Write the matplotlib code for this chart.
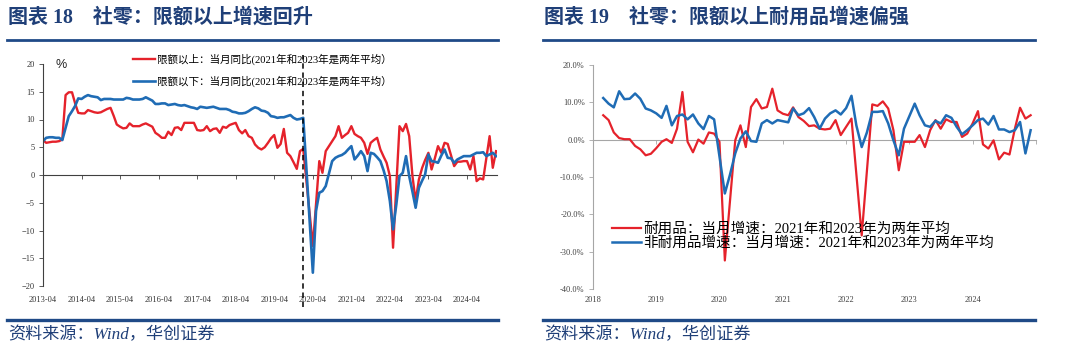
import numpy as np
import pandas as pd
import matplotlib
matplotlib.use('Agg')
import matplotlib.pyplot as plt
import matplotlib.dates as mdates
import matplotlib.transforms as mtransforms
from matplotlib.ticker import FuncFormatter

nan = np.nan

# ---------- left chart: monthly, starting 2013-04 ----------
left_start = '2013-04-01'
above_quota = [
    6.3, 5.8, 5.9, 6.0, 6.0, 6.1, 6.4, 14.4, 14.9, 14.9,
    12.8, 11.2, 11.1, 11.1, 11.7, 11.5, 11.3, 11.2, 11.3, 11.6,
    11.9, 12.1, 10.6, 9.1, 8.7, 8.4, 8.5, 9.3, 8.8, 8.8,
    8.8, 9.1, 9.3, 9.0, 8.7, 7.6, 7.2, 6.7, 6.7, 7.8,
    7.2, 8.5, 8.6, 8.1, 9.4, 9.4, 9.4, 9.4, 8.1, 8.0,
    8.1, 8.8, 7.9, 8.3, 8.4, 7.6, 8.7, 8.5, 9.0, 9.2,
    9.4, 8.1, 7.5, 8.1, 7.0, 6.7, 5.5, 4.9, 4.6, 5.0,
    5.8, 6.6, 7.2, 4.9, 5.6, 8.3, 4.0, 3.4, 2.3, 1.1,
    4.3, 4.7, nan, nan, -12.8, nan, 2.5, 0.4, 4.3, 5.2,
    nan, 7.0, 8.8, 6.7, 7.2, 7.6, 8.8, 7.4, 7.0, 6.7,
    5.8, 3.8, 5.8, 6.3, 6.7, 4.6, 3.3, 2.2, -0.2, -13.1,
    nan, 8.8, 7.9, 9.2, 7.0, -0.2, -4.7, -0.8, 1.3, 2.7,
    4.0, 1.0, 3.0, 5.2, 4.0, 5.8, 5.6, 3.6, 1.6, 2.4,
    2.4, 2.5, 2.5, 1.0, 3.4, -1.1, -0.6, -0.8, nan, 7.0,
    1.3, 4.3]
below_quota = [
    6.1, 6.7, 6.8, 6.8, 6.7, 6.7, 6.3, 8.5, 10.6, 11.5,
    12.5, 13.8, 13.7, 14.1, 14.4, 14.2, 14.1, 14.0, 13.5, 13.7,
    13.7, 13.7, 13.6, 13.6, 13.6, 13.6, 13.9, 13.8, 13.6, 13.6,
    13.6, 13.7, 14.0, 13.7, 13.4, 12.8, 12.8, 12.9, 12.9, 12.6,
    12.7, 12.8, 12.6, 12.5, 12.6, 12.4, 12.2, 12.1, 11.9, 12.3,
    12.2, 12.1, 12.2, 12.3, 12.1, 11.9, 11.9, 11.9, 11.7, 11.4,
    11.3, 11.1, 11.1, 11.2, 11.5, 11.9, 12.2, 12.0, 11.6, 11.5,
    11.2, 10.6, 10.5, 10.3, 10.4, 10.4, 10.6, 10.8, 10.3, 10.0,
    10.1, 10.3, nan, nan, -17.6, -6.5, -3.2, -2.9, -2.0, nan,
    2.5, 3.1, 3.4, 3.6, 4.0, 4.6, 5.2, 2.8, 3.5, 4.3,
    3.4, 0.7, 4.0, 3.8, 3.2, 2.5, 0.8, -1.1, -4.7, -9.8,
    -5.3, -0.2, 0.4, 3.4, -0.2, -3.0, -5.9, -2.3, -1.0, 0.1,
    3.7, 2.5, 2.4, 2.2, 3.5, 4.6, 3.1, 3.0, 2.2, 2.8,
    3.1, 3.4, 3.4, 3.4, 3.7, 4.0, 4.0, 4.1, 3.4, 3.7,
    4.0, 3.4]
left_labels = ['限额以上：当月同比(2021年和2023年是两年平均）',
               '限额以下：当月同比(2021年和2023年是两年平均）']
left_title = '图表 18\u3000社零：限额以上增速回升'

# ---------- right chart: monthly, starting 2018-03 ----------
right_start = '2018-03-01'
durable = [
    6.5, 5.2, 1.9, 0.4, 0.1, 0.1, -1.7, -2.6, -4.2, -3.8,
    -2.3, -0.6, 0.1, -0.9, 2.9, 12.7, -0.6, -3.4, 0.0, -1.1,
    1.9, 1.6, -0.6, -32.3, nan, -0.2, 3.8, -2.0, 8.7, 10.8,
    8.3, 8.7, 13.6, 7.8, 6.9, 6.5, 8.6, 6.0, 5.0, 3.6,
    3.8, 2.9, 2.7, 2.9, 5.2, 1.2, 3.4, 5.6, nan, -25.6,
    nan, 9.4, 9.0, 10.2, 8.3, 2.5, -8.2, -0.6, -0.6, -0.6,
    1.2, -2.0, 2.5, 5.2, 2.9, 5.4, 4.7, 4.7, 0.7, 1.6,
    4.3, 7.6, -1.3, -2.4, -0.2, -5.3, -3.5, -4.0, 2.9, 8.5, 5.6, 6.5]
nondurable = [
    11.1, 9.6, 8.6, 12.9, 10.8, 10.9, 12.3, 10.9, 8.3, 7.8,
    7.0, 5.8, 9.0, 3.8, 6.3, 6.7, 5.4, 6.7, 4.3, 2.8,
    6.3, 5.4, nan, -14.4, -9.5, -3.7, 0.3, 2.2, -0.4, -0.6,
    4.3, 5.2, 4.3, 5.2, 4.9, 4.6, 8.3, 6.5, 7.0, 8.4,
    6.0, 2.9, 5.6, 7.0, 7.8, 6.7, 8.4, 11.7, 3.8, -2.0,
    1.9, 7.4, 7.4, 7.6, 4.3, -0.2, -4.2, 2.9, nan, 9.6,
    6.5, 3.8, 3.4, 5.0, 4.3, 6.5, 5.8, 3.4, 1.4, 2.5,
    3.8, 5.2, 5.6, 4.0, 6.3, 2.7, 2.7, 2.0, 2.5, 4.7, -3.7, 2.5]
right_labels = ['耐用品：当月增速：2021年和2023年为两年平均',
                '非耐用品增速：当月增速：2021年和2023年为两年平均']
right_title = '图表 19\u3000社零：限额以上耐用品增速偏强'
source_text = '资料来源：Wind，华创证券'

# ---------- style ----------
plt.rcParams['font.family'] = ['Liberation Serif', 'Noto Sans CJK SC']
red = '#E5222B'
blue = '#1F6CB5'
navy = '#1F3F78'
rule_clr = '#1F4A87'

W, H = 1080, 359
fx = lambda px: px / W
fy = lambda py: 1 - py / H

fig = plt.figure(figsize=(W / 100, H / 100), dpi=100)

# titles, rules and sources
for x0, x1, title in [(7, 498, left_title), (543, 1035, right_title)]:
    fig.text(fx(x0 + 1), fy(18), title, fontsize=14.4, fontweight='bold',
             color=navy, va='center', ha='left')
    fig.add_artist(plt.Line2D([fx(x0), fx(x1)], [fy(40), fy(40)],
                              color=rule_clr, lw=2.0))
    fig.add_artist(plt.Line2D([fx(x0), fx(x1)], [fy(320), fy(320)],
                              color=rule_clr, lw=2.4))
    fig.text(fx(x0 + 1), fy(335), source_text, fontsize=12.3, style='italic',
             color=navy, va='center', ha='left')

# ---------- left chart ----------
dl = pd.date_range(left_start, periods=len(above_quota), freq='MS')
s_above = pd.Series(above_quota, index=dl).dropna()
s_below = pd.Series(below_quota, index=dl).dropna()

ax1 = fig.add_axes([fx(43), fy(286), fx(497) - fx(43), fy(64) - fy(286)])
ax1.plot(s_above.index, s_above.values, color=red, lw=1.7, label=left_labels[0])
ax1.plot(s_below.index, s_below.values, color=blue, lw=1.9, label=left_labels[1])
ax1.set_ylim(-20, 20)
ax1.set_yticks(range(-20, 21, 5))
ax1.set_xlim(pd.Timestamp('2013-04-01'), pd.Timestamp('2025-01-10'))
l_ticks = pd.date_range('2013-04-01', '2024-04-01', freq='12MS')
ax1.set_xticks(l_ticks)
ax1.xaxis.set_major_formatter(mdates.DateFormatter('%Y-%m'))
for sp in ['top', 'right', 'bottom']:
    ax1.spines[sp].set_visible(False)
ax1.spines['left'].set_color('#404040')
ax1.spines['left'].set_linewidth(0.8)
ax1.tick_params(axis='y', direction='out', length=3, width=0.6,
                color='#404040', labelsize=6, labelcolor='#333333', pad=3)
ax1.tick_params(axis='x', length=0, labelsize=6, labelcolor='#333333', pad=7)
# zero line with tick marks
sec1 = ax1.secondary_xaxis(0.5)
sec1.set_xticks(mdates.date2num(l_ticks))
sec1.tick_params(direction='in', length=3, width=0.6, color='#404040',
                 labeltop=False, labelbottom=False)
for sp in sec1.spines.values():
    sp.set_color('#404040')
    sp.set_linewidth(0.8)
# covid break marker
trans = mtransforms.blended_transform_factory(ax1.transData, ax1.transAxes)
xd = mdates.date2num(pd.Timestamp('2020-01-01'))
ax1.plot([xd, xd], [-0.095, 1.04], transform=trans, clip_on=False,
         color='black', lw=1.1, ls=(0, (3.5, 2.5)))
fig.text(fx(55), fy(65), '%', fontsize=9, family='Liberation Sans',
         va='center', ha='left', color='#222222')
ax1.legend(loc='upper left', bbox_to_anchor=(0.198, 1.045), frameon=False,
           fontsize=7.6, handlelength=2.1, handletextpad=0.2,
           labelspacing=1.0, borderpad=0, borderaxespad=0)

# ---------- right chart ----------
dr = pd.date_range(right_start, periods=len(durable), freq='MS')
s_dur = pd.Series(durable, index=dr).dropna()
s_non = pd.Series(nondurable, index=dr).dropna()

ax2 = fig.add_axes([fx(593), fy(289.3), fx(1036) - fx(593), fy(64.7) - fy(289.3)])
ax2.plot(s_dur.index, s_dur.values, color=red, lw=1.6, label=right_labels[0])
ax2.plot(s_non.index, s_non.values, color=blue, lw=1.8, label=right_labels[1])
ax2.set_ylim(-40, 20)
ax2.set_yticks(range(-40, 21, 10))
ax2.yaxis.set_major_formatter(FuncFormatter(lambda v, p: f'{v:.1f}%'))
ax2.set_xlim(pd.Timestamp('2018-01-01'), pd.Timestamp('2025-01-01'))
r_ticks = pd.date_range('2018-01-01', '2024-01-01', freq='YS')
ax2.set_xticks(r_ticks)
ax2.xaxis.set_major_formatter(mdates.DateFormatter('%Y'))
for sp in ['top', 'right', 'bottom']:
    ax2.spines[sp].set_visible(False)
ax2.spines['left'].set_color('#A6A6A6')
ax2.spines['left'].set_linewidth(0.8)
ax2.tick_params(axis='y', direction='out', length=3, width=0.6,
                color='#A6A6A6', labelsize=6, labelcolor='#404040', pad=3)
ax2.tick_params(axis='x', length=0, labelsize=6, labelcolor='#404040', pad=5)
sec2 = ax2.secondary_xaxis(40 / 60)
sec2.set_xticks(mdates.date2num(pd.date_range('2018-01-01', '2025-01-01', freq='YS')))
sec2.tick_params(direction='in', length=3, width=0.6, color='#A6A6A6',
                 labeltop=False, labelbottom=False)
for sp in sec2.spines.values():
    sp.set_color('#A6A6A6')
    sp.set_linewidth(0.8)
ax2.legend(loc='upper left', bbox_to_anchor=(0.042, 0.297), frameon=False,
           fontsize=10.5, handlelength=2.0, handletextpad=0.15,
           labelspacing=0.05, borderpad=0, borderaxespad=0)

fig.savefig('out.png', dpi=100)
